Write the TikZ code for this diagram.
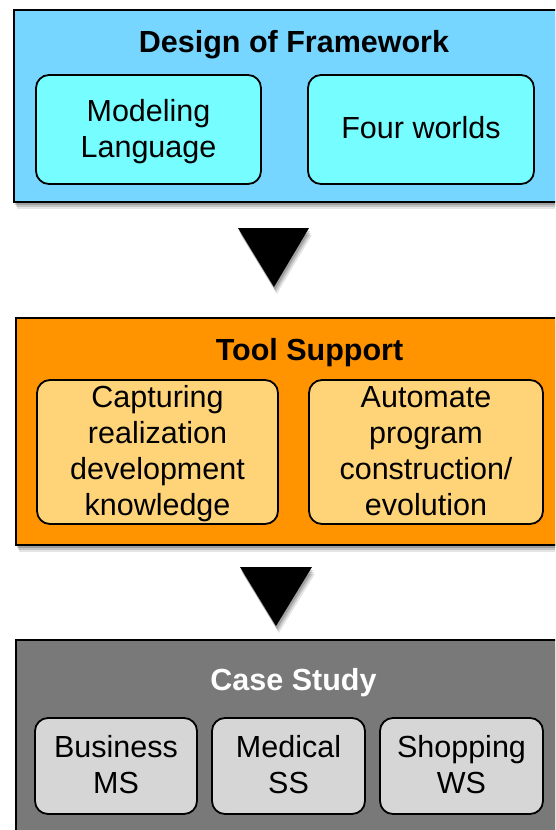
\documentclass[tikz,border=0pt]{standalone}
\usepackage{fontspec}
\setmainfont{Liberation Sans}
\usetikzlibrary{shadows}
\definecolor{topblue}{HTML}{76D6FF}
\definecolor{topcyan}{HTML}{75FDFF}
\definecolor{midorange}{HTML}{FF9300}
\definecolor{midlight}{HTML}{FFD479}
\definecolor{botgray}{HTML}{797979}
\definecolor{botlight}{HTML}{D6D6D6}
\tikzset{
  softshadow/.style={
    drop shadow={shadow xshift=1pt,shadow yshift=-3pt,opacity=0.18,fill=black},
    drop shadow={shadow xshift=2pt,shadow yshift=-5pt,opacity=0.14,fill=black},
    drop shadow={shadow xshift=3pt,shadow yshift=-7pt,opacity=0.10,fill=black}},
  outerbox/.style={draw=black,line width=2.2pt,softshadow},
  innerbox/.style={draw=black,line width=1.8pt,rounded corners=13pt},
  boxtext/.style={align=center,inner sep=0pt,font=\fontsize{30.5}{36}\selectfont},
  title/.style={anchor=base,inner sep=0pt,font=\fontsize{30.5}{36}\selectfont\bfseries},
  tri/.style={fill=black,softshadow},
}
\begin{document}
\begin{tikzpicture}[x=1pt,y=-1pt]
\useasboundingbox (0,0) rectangle (555,830);
\clip (0,0) rectangle (555,830);
\fill[white] (0,0) rectangle (555,830);
% top block
\path[outerbox,fill=topblue] (14,10) rectangle (580,202);
\node[title] (t1) at (294,52) {Design of Framework};
\path[innerbox,fill=topcyan] (36,75) rectangle (261,184);
\node[boxtext] (ml) at (148.5,132) {Modeling\\Language};
\path[innerbox,fill=topcyan] (308,75) rectangle (534,184);
\node[boxtext] (fw) at (421,128) {Four worlds};
% arrow 1
\path[tri] (238,228) -- (309,228) -- (274,287) -- cycle;
% middle block
\path[outerbox,fill=midorange] (16,318) rectangle (580,545);
\node[title] (t2) at (309.5,360) {Tool Support};
\path[innerbox,fill=midlight] (37,380) rectangle (278,524);
\node[boxtext] (cap) at (157.5,454) {Capturing\\realization\\development\\knowledge};
\path[innerbox,fill=midlight] (309,380) rectangle (543,524);
\node[boxtext] (aut) at (426,451) {Automate\\program\\construction/\\evolution};
% arrow 2
\path[tri] (240,567) -- (312,567) -- (276,626) -- cycle;
% bottom block
\path[outerbox,fill=botgray] (16,640) rectangle (580,870);
\node[title,text=white] (t3) at (293.5,690) {Case Study};
\path[innerbox,fill=botlight] (35,718) rectangle (197,814);
\node[boxtext] (bus) at (116,765) {Business\\MS};
\path[innerbox,fill=botlight] (212,718) rectangle (365,814);
\node[boxtext] (med) at (288.5,765) {Medical\\SS};
\path[innerbox,fill=botlight] (380,718) rectangle (543,814);
\node[boxtext] (shop) at (461.5,765) {Shopping\\WS};
\end{tikzpicture}
\end{document}
